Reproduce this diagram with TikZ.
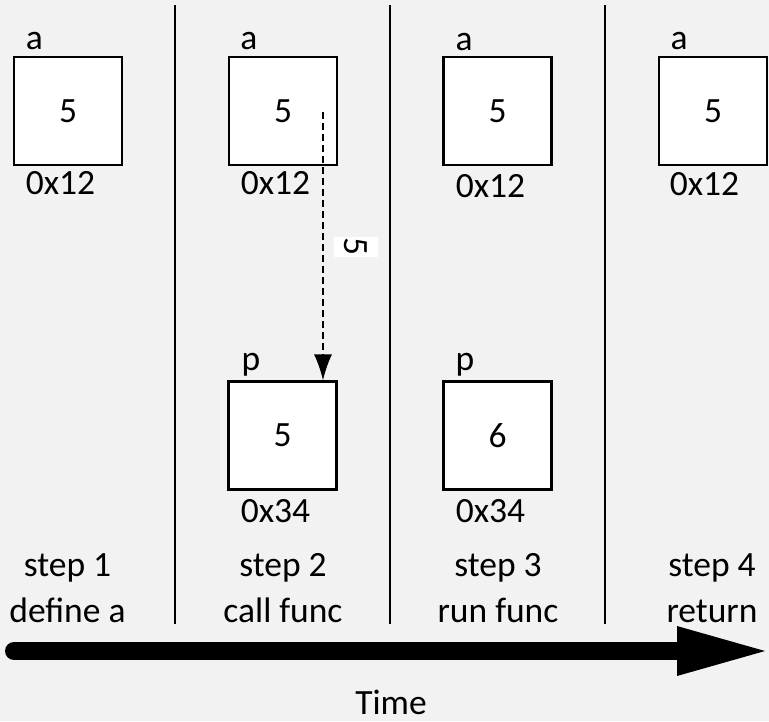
\documentclass[tikz,border=0pt]{standalone}
\usepackage{fontspec}
\setmainfont{Carlito}
\usepackage{tikz}
\usetikzlibrary{arrows.meta}
\definecolor{bggray}{HTML}{F2F2F2}
\begin{document}
\begin{tikzpicture}[x=1pt,y=-1pt]
\tikzstyle{every node}+=[inner sep=0pt,font=\fontsize{35.5}{46}\selectfont]
\tikzstyle{cell}=[draw,fill=white,line width=2.2pt,minimum width=108pt,minimum height=108pt]
\tikzstyle{lbl}=[anchor=base]
\tikzstyle{divider}=[line width=1.8pt]
\fill [bggray] (0,0) rectangle (769,721);
\useasboundingbox (0,0) rectangle (769,721);
\draw [divider] (175,5) -- (175,624);
\draw [divider] (390,5) -- (390,624);
\draw [divider] (605,5) -- (605,624);
\node [cell] (a1) at (68,111) {5};
\node [lbl] (a1name) at (34.5,49) {a};
\node [lbl] (a1addr) at (60.5,194) {0x12};
\node [cell] (a2) at (283,111) {5};
\node [lbl] (a2name) at (249,49) {a};
\node [lbl] (a2addr) at (275.5,194) {0x12};
\node [cell] (a3) at (497.5,111) {5};
\node [lbl] (a3name) at (464,50) {a};
\node [lbl] (a3addr) at (490.5,197) {0x12};
\node [cell] (a4) at (713,111) {5};
\node [lbl] (a4name) at (679,49) {a};
\node [lbl] (a4addr) at (704.5,195) {0x12};
\node [cell] (p2) at (282.5,435.5) {5};
\node [lbl] (p2name) at (251,370) {p};
\node [lbl] (p2addr) at (275.5,522) {0x34};
\node [cell] (p3) at (497.5,435.5) {6};
\node [lbl] (p3name) at (465,370) {p};
\node [lbl] (p3addr) at (490.5,522) {0x34};
\coordinate (copyfrom) at (323,112);
\draw [line width=1.5pt,dash pattern=on 7pt off 4pt,-{Latex[length=26pt,width=18pt]}] (copyfrom) -- (copyfrom |- p2.north);
\node [fill=white,rotate=-90,inner xsep=1pt,inner ysep=10pt] (copyval) at (356,246.5) {5};
\node [lbl,align=center] (s1) at (67.5,622) {step 1\\define a};
\node [lbl,align=center] (s2) at (283,622) {step 2\\call func};
\node [lbl,align=center] (s3) at (498,622) {step 3\\run func};
\node [lbl,align=center] (s4) at (712,622) {step 4\\return};
\coordinate (tstart) at (14,651);
\coordinate (tend) at (765,651);
\draw [line width=18pt,line cap=round] (tstart) -- ([xshift=-80pt]tend);
\fill (tend) -- ++(-88,-25) -- ++(0,50) -- cycle;
\node [lbl] (time) at (391,714) {Time};
\end{tikzpicture}
\end{document}
